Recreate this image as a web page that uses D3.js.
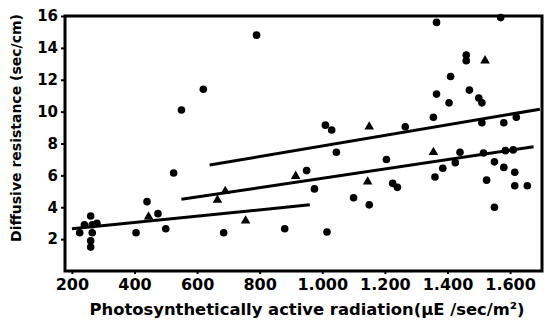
<!DOCTYPE html>
<html>
<head>
<meta charset="utf-8">
<script src="https://cdn.jsdelivr.net/npm/d3@7"></script>
<style>
    body { margin: 0; background: #fff; }
    svg text { font-family: "DejaVu Sans", Arial, sans-serif; font-weight: bold; fill: #000; }
</style>
</head>
<body>
<div id="chart"></div>
<script>
'use strict';

// Photosynthetically active radiation vs. diffusive resistance
var circlePar = [790, 620, 550, 1365, 1570, 1460, 1460, 1410, 1365, 1470, 1405, 1500, 1510, 1355,
                 1010, 1030, 1265, 1510, 1580, 1620, 1045, 1205, 1440, 1515, 1550, 1585, 1610, 1580,
                 1385, 1425, 950, 975, 1225, 1240, 1360, 1525, 1615, 1615, 1655, 1100, 1150, 1550,
                 1015, 525, 440, 475, 880, 685, 500, 405, 260, 225, 240, 265, 280, 265, 260, 260];
var circleRes = [14.8, 11.4, 10.1, 15.6, 15.9, 13.55, 13.2, 12.2, 11.1, 11.35, 10.55, 10.85, 10.55, 9.65,
                 9.15, 8.85, 9.05, 9.3, 9.3, 9.65, 7.45, 7.0, 7.45, 7.4, 6.85, 7.55, 7.6, 6.5,
                 6.45, 6.8, 6.3, 5.15, 5.5, 5.25, 5.9, 5.7, 6.2, 5.35, 5.35, 4.6, 4.15, 4.0,
                 2.45, 6.15, 4.35, 3.6, 2.65, 2.4, 2.65, 2.4, 3.45, 2.4, 2.9, 2.9, 3.0, 2.4, 1.9, 1.5];

var trianglePar = [1520, 1355, 665, 690, 915, 445, 755, 1150, 1145];
var triangleRes = [13.2, 7.45, 4.45, 5.0, 5.95, 3.4, 3.15, 9.05, 5.6];

// fitted lines: [start, end]
var linePar = [[200, 960], [550, 1675], [640, 1695]];
var lineRes = [[2.65, 4.15], [4.5, 7.8], [6.65, 10.15]];

var xTicks = [200, 400, 600, 800, 1000, 1200, 1400, 1600];
var yTicks = [2, 4, 6, 8, 10, 12, 14, 16];

var width = 549,
    height = 323,
    frame = {left: 65, right: 542, top: 16, bottom: 271};

var svg = d3.select('#chart').append('svg')
            .attr('width', width)
            .attr('height', height);

var x = d3.scaleLinear().domain([178, 1702]).range([frame.left, frame.right]),
    y = d3.scaleLinear().domain([0, 16]).range([frame.bottom, frame.top]);

var locale = d3.formatLocale({decimal: ',', thousands: '.', grouping: [3], currency: ['', '']}),
    fmt = locale.format(',d');

// axes
var xAxis = svg.append('g')
               .attr('transform', 'translate(0,' + frame.bottom + ')')
               .call(d3.axisBottom(x).tickValues(xTicks).tickFormat(fmt).tickSize(3).tickPadding(5));

var yAxis = svg.append('g')
               .attr('transform', 'translate(' + frame.left + ',0)')
               .call(d3.axisLeft(y).tickValues(yTicks).tickSize(4).tickPadding(3));

[xAxis, yAxis].forEach(function (g) {
    g.select('.domain').remove();
    g.selectAll('line').attr('stroke', '#000').attr('stroke-width', 2);
});
xAxis.selectAll('text').style('font-size', '16px');
yAxis.selectAll('text').style('font-size', '15px');

svg.append('rect')
   .attr('x', frame.left)
   .attr('y', frame.top)
   .attr('width', frame.right - frame.left)
   .attr('height', frame.bottom - frame.top)
   .attr('fill', 'none')
   .attr('stroke', '#000')
   .attr('stroke-width', 3);

// regression lines
var line = d3.line()
             .x(function (d) { return x(d[0]); })
             .y(function (d) { return y(d[1]); });

svg.selectAll('path.fit')
   .data(linePar.map(function (p, i) {
       return [[p[0], lineRes[i][0]], [p[1], lineRes[i][1]]];
   }))
   .enter()
   .append('path')
   .attr('class', 'fit')
   .attr('d', line)
   .attr('stroke', '#000')
   .attr('stroke-width', 3)
   .attr('fill', 'none');

// points
svg.selectAll('circle.pt')
   .data(circlePar)
   .enter()
   .append('circle')
   .attr('class', 'pt')
   .attr('cx', function (d) { return x(d); })
   .attr('cy', function (d, i) { return y(circleRes[i]); })
   .attr('r', 3.8)
   .attr('fill', '#000');

var tri = d3.symbol().type(d3.symbolTriangle).size(40);

svg.selectAll('path.tri')
   .data(trianglePar)
   .enter()
   .append('path')
   .attr('class', 'tri')
   .attr('d', tri)
   .attr('transform', function (d, i) {
       return 'translate(' + x(d) + ',' + y(triangleRes[i]) + ')';
   })
   .attr('fill', '#000');

// axis titles
svg.append('text')
   .attr('x', 307)
   .attr('y', 315)
   .attr('text-anchor', 'middle')
   .style('font-size', '16.4px')
   .text('Photosynthetically active radiation(\u00b5E /sec/m\u00b2)');

svg.append('text')
   .attr('transform', 'translate(21,128) rotate(-90)')
   .attr('text-anchor', 'middle')
   .style('font-size', '14px')
   .text('Diffusive resistance (sec/cm)');
</script>
</body>
</html>
